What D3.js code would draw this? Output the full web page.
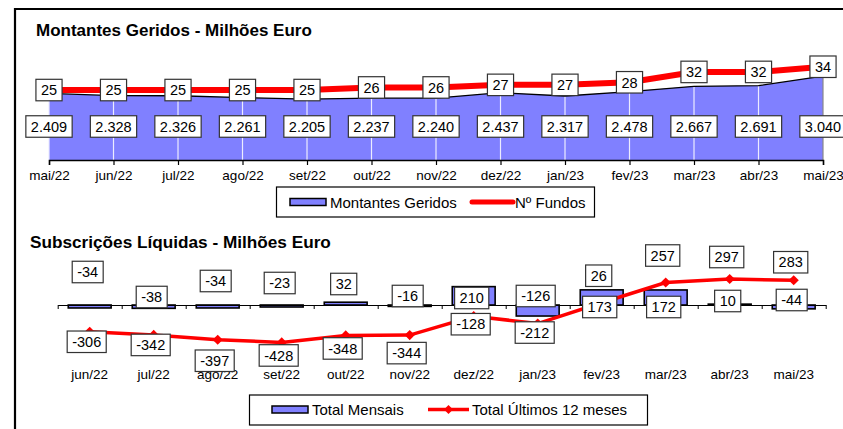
<!DOCTYPE html>
<html>
<head>
<meta charset="utf-8">
<script src="https://cdn.jsdelivr.net/npm/d3@7"></script>
<style>
  body { margin: 0; background: #fff; }
  svg { display: block; font-family: "Liberation Sans", Arial, sans-serif; }
</style>
</head>
<body>
<div id="chart"></div>
<script>
// ---- data: top chart (Montantes Geridos / Nº Fundos)
var topMonths = ["mai/22", "jun/22", "jul/22", "ago/22", "set/22", "out/22", "nov/22",
                 "dez/22", "jan/23", "fev/23", "mar/23", "abr/23", "mai/23"];
var montantes = [2409, 2328, 2326, 2261, 2205, 2237, 2240, 2437, 2317, 2478, 2667, 2691, 3040];
var fundos = [25, 25, 25, 25, 25, 26, 26, 27, 27, 28, 32, 32, 34];

// ---- data: bottom chart (Subscrições Líquidas)
var botMonths = ["jun/22", "jul/22", "ago/22", "set/22", "out/22", "nov/22",
                 "dez/22", "jan/23", "fev/23", "mar/23", "abr/23", "mai/23"];
var mensais = [-34, -38, -34, -23, 32, -16, 210, -126, 173, 172, 10, -44];
var ultimos12 = [-306, -342, -397, -428, -348, -344, -128, -212, 26, 257, 297, 283];

// label placement offsets (px) as laid out in the original sheet
var barLabelDy = [-33, -8, -24, -22, -21, -9, -7, -9, 2, 2, -4, -5];
var lineLabelDy = [10, 10, 21, 13, 13, 18, 8, 9, -27, -27, -22, -18];

var W = 843, H = 429;
var blue = "#8080ff", red = "#ff0000";
var ptFmt = d3.formatLocale({decimal: ",", thousands: ".", grouping: [3], currency: ["", "€"]}).format(",");

var svg = d3.select("#chart").append("svg")
    .attr("width", W)
    .attr("height", H);

// outer frame
svg.append("path")
    .attr("d", "M15," + (H + 5) + "V9H" + (W + 5))
    .attr("fill", "none")
    .attr("stroke", "#000")
    .attr("stroke-width", 2.2);

function labelBox(g, x, y, txt, pad) {
  var grp = g.append("g");
  var t = grp.append("text")
      .attr("x", x)
      .attr("y", y)
      .attr("dy", "0.36em")
      .attr("text-anchor", "middle")
      .attr("font-size", 14.5)
      .attr("fill", "#000")
      .text(txt);
  var w = t.node().getComputedTextLength();
  grp.insert("rect", "text")
      .attr("x", x - w / 2 - pad)
      .attr("y", y - 10.75)
      .attr("width", w + 2 * pad)
      .attr("height", 21.5)
      .attr("fill", "#fff")
      .attr("stroke", "#333")
      .attr("stroke-width", 1.2);
}

// ================= TOP CHART =================
svg.append("text")
    .attr("x", 36)
    .attr("y", 36)
    .attr("font-size", 17)
    .attr("font-weight", "bold")
    .text("Montantes Geridos - Milhões Euro");

var tx = d3.scalePoint().domain(topMonths).range([49, 823]);
var tyA = d3.scaleLinear().domain([0, 4000]).range([160, 49.5]);
var tyL = d3.scaleLinear().domain([0, 40]).range([154.8, 51.2]);

var topG = svg.append("g");

topG.append("path")
    .datum(montantes)
    .attr("fill", blue)
    .attr("d", d3.area()
      .x(function(d, i) { return tx(topMonths[i]); })
      .y0(tyA(0))
      .y1(function(d) { return tyA(d); }));

// light drop lines inside the area
topG.append("g")
  .selectAll("line")
  .data(montantes)
  .enter().append("line")
    .attr("x1", function(d, i) { return tx(topMonths[i]); })
    .attr("x2", function(d, i) { return tx(topMonths[i]); })
    .attr("y1", tyA(0))
    .attr("y2", function(d) { return tyA(d); })
    .attr("stroke", function(d, i) { return i == montantes.length - 1 ? "#888" : "#ececff"; })
    .attr("stroke-width", 1.2);

topG.append("path")
    .datum(montantes)
    .attr("fill", "none")
    .attr("stroke", "#000")
    .attr("stroke-width", 1.3)
    .attr("d", d3.line()
      .x(function(d, i) { return tx(topMonths[i]); })
      .y(function(d) { return tyA(d); }));

topG.append("path")
    .datum(fundos)
    .attr("fill", "none")
    .attr("stroke", red)
    .attr("stroke-width", 6)
    .attr("d", d3.line()
      .x(function(d, i) { return tx(topMonths[i]); })
      .y(function(d) { return tyL(d); }));

var topAxis = topG.append("g")
    .attr("transform", "translate(0," + tyA(0) + ")")
    .call(d3.axisBottom(tx).tickSize(5).tickPadding(5));
topAxis.select(".domain").attr("stroke-width", 1.5);
topAxis.selectAll("line").attr("stroke-width", 1.2);
topAxis.selectAll("text")
    .attr("font-size", 13.5)
    .attr("font-family", "Liberation Sans, Arial, sans-serif")
    .attr("fill", "#000");

montantes.forEach(function(v, i) {
  labelBox(topG, tx(topMonths[i]), 126.5, ptFmt(v), 5);
});
fundos.forEach(function(v, i) {
  labelBox(topG, tx(topMonths[i]), tyL(v), v, 5);
});

// top legend
var lg1 = svg.append("g");
lg1.append("rect")
    .attr("x", 276.5).attr("y", 187).attr("width", 318).attr("height", 30)
    .attr("fill", "#fff").attr("stroke", "#000").attr("stroke-width", 1.2);
lg1.append("rect")
    .attr("x", 290).attr("y", 198.5).attr("width", 36).attr("height", 7)
    .attr("fill", blue).attr("stroke", "#000").attr("stroke-width", 1.5);
lg1.append("text")
    .attr("x", 330).attr("y", 207.5).attr("font-size", 15).text("Montantes Geridos");
lg1.append("line")
    .attr("x1", 472).attr("x2", 513).attr("y1", 202).attr("y2", 202)
    .attr("stroke", red).attr("stroke-width", 5).attr("stroke-linecap", "round");
lg1.append("text")
    .attr("x", 515).attr("y", 207.5).attr("font-size", 15).text("Nº Fundos");

// ================= BOTTOM CHART =================
svg.append("text")
    .attr("x", 30)
    .attr("y", 247.5)
    .attr("font-size", 17.2)
    .attr("font-weight", "bold")
    .text("Subscrições Líquidas - Milhões Euro");

var bx = d3.scaleBand().domain(botMonths).range([57.7, 825.7])
    .paddingInner(0.33).paddingOuter(0.165);
var bEdge = d3.scaleLinear().domain([0, botMonths.length]).range([57.7, 825.7]);
var by = d3.scaleLinear().domain([-500, 400]).range([348.75, 270]);

var botG = svg.append("g");

botG.append("g")
  .selectAll("rect")
  .data(mensais)
  .enter().append("rect")
    .attr("x", function(d, i) { return bx(botMonths[i]); })
    .attr("y", function(d) { return by(Math.max(d, 0)); })
    .attr("width", bx.bandwidth())
    .attr("height", function(d) { return Math.abs(by(d) - by(0)); })
    .attr("fill", blue)
    .attr("stroke", "#000")
    .attr("stroke-width", 1.6);

var botAxis = botG.append("g")
    .attr("transform", "translate(0," + by(0) + ")")
    .call(d3.axisBottom(bEdge).tickValues(d3.range(botMonths.length + 1))
      .tickSize(4).tickSizeOuter(0).tickFormat(""));
botAxis.select(".domain").attr("stroke-width", 1.2);

botG.append("g")
  .selectAll("text")
  .data(botMonths)
  .enter().append("text")
    .attr("x", function(d) { return bx(d) + bx.bandwidth() / 2; })
    .attr("y", 379)
    .attr("text-anchor", "middle")
    .attr("font-size", 13.5)
    .text(function(d) { return d; });

var bcx = function(i) { return bx(botMonths[i]) + bx.bandwidth() / 2; };

botG.append("path")
    .datum(ultimos12)
    .attr("fill", "none")
    .attr("stroke", red)
    .attr("stroke-width", 3.5)
    .attr("d", d3.line()
      .x(function(d, i) { return bcx(i); })
      .y(function(d) { return by(d); }));

botG.append("g")
  .selectAll("path")
  .data(ultimos12)
  .enter().append("path")
    .attr("d", d3.symbol().type(d3.symbolSquare).size(52))
    .attr("transform", function(d, i) {
      return "translate(" + bcx(i) + "," + by(d) + ") rotate(45)";
    })
    .attr("fill", red);

mensais.forEach(function(v, i) {
  labelBox(botG, bcx(i) - 2, by(0) + barLabelDy[i], v, 5);
});
ultimos12.forEach(function(v, i) {
  labelBox(botG, bcx(i) - 3, by(v) + lineLabelDy[i], v, 5);
});

// bottom legend
var lg2 = svg.append("g");
lg2.append("rect")
    .attr("x", 249.5).attr("y", 395).attr("width", 398).attr("height", 30)
    .attr("fill", "#fff").attr("stroke", "#000").attr("stroke-width", 1.2);
lg2.append("rect")
    .attr("x", 272).attr("y", 406).attr("width", 36).attr("height", 7)
    .attr("fill", blue).attr("stroke", "#000").attr("stroke-width", 1.5);
lg2.append("text")
    .attr("x", 312).attr("y", 415).attr("font-size", 15).text("Total Mensais");
lg2.append("line")
    .attr("x1", 428).attr("x2", 469).attr("y1", 409.5).attr("y2", 409.5)
    .attr("stroke", red).attr("stroke-width", 3.5);
lg2.append("path")
    .attr("d", d3.symbol().type(d3.symbolSquare).size(40))
    .attr("transform", "translate(448.5,409.5) rotate(45)")
    .attr("fill", red);
lg2.append("text")
    .attr("x", 472).attr("y", 415).attr("font-size", 15).text("Total Últimos 12 meses");
</script>
</body>
</html>
